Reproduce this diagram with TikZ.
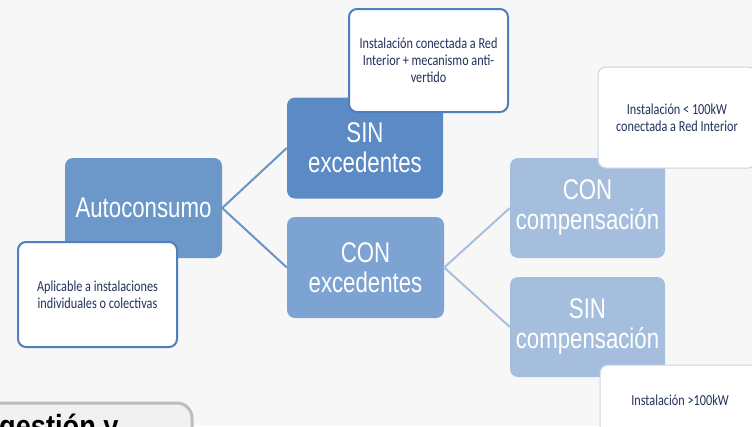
\documentclass[tikz,border=0pt]{standalone}
\usepackage{fontspec}
\setmainfont{Liberation Sans}
\newfontfamily\boxfont[FakeStretch=0.78]{Liberation Sans}
\newfontfamily\notefont[FakeStretch=0.8]{Carlito}
\newfontfamily\headfont[FakeStretch=0.85]{Liberation Sans}
\definecolor{bgc}{HTML}{F7F7F7}
\definecolor{autoc}{HTML}{6B97C9}
\definecolor{sinexc}{HTML}{5B8AC4}
\definecolor{conexc}{HTML}{7CA3D1}
\definecolor{compc}{HTML}{A5BEDD}
\definecolor{noteborder}{HTML}{4F7FBF}
\definecolor{notelight}{HTML}{C9D4E4}
\definecolor{notetext}{HTML}{22315A}
\definecolor{linkdark}{HTML}{6A93C6}
\definecolor{linklight}{HTML}{A9C0DD}
\definecolor{greybox}{HTML}{BDBDBD}
\definecolor{greyfill}{HTML}{F1F1F1}
\tikzset{
  mainbox/.style={rectangle, rounded corners=8pt, inner sep=0pt, align=center,
    text=white, font=\boxfont\fontsize{28.5}{30}\selectfont},
  notebox/.style={rectangle, rounded corners=8pt, inner sep=0pt, align=center,
    fill=white, text=notetext, font=\notefont\fontsize{15.3}{17}\selectfont},
  strongnote/.style={notebox, draw=noteborder, line width=2pt},
  softnote/.style={notebox, draw=notelight, line width=1pt},
  darklink/.style={draw=linkdark, line width=2pt},
  lightlink/.style={draw=linklight, line width=2pt}
}
\begin{document}
\begin{tikzpicture}[x=1pt, y=-1pt]
\useasboundingbox (0,0) rectangle (752,426);
\clip (0,0) rectangle (752,426);
\fill[bgc] (0,0) rectangle (752,426);

% root and its note
\node[mainbox, fill=autoc, minimum width=157pt, minimum height=100pt]
  (auto) at (143.5,208) {Autoconsumo};
\node[strongnote, minimum width=159pt, minimum height=105pt]
  (noteA) at (97.5,294.5) {Aplicable a instalaciones\\individuales o colectivas};

% first level
\node[mainbox, fill=sinexc, minimum width=156pt, minimum height=101pt]
  (sinx) at (365,148) {SIN\\excedentes};
\node[mainbox, fill=conexc, minimum width=157pt, minimum height=101pt]
  (conx) at (365.5,267.5) {CON\\excedentes};
\node[strongnote, minimum width=159pt, minimum height=103pt]
  (noteB) at (428.5,60.5) {Instalación conectada a Red\\Interior + mecanismo anti-\\vertido};

% second level
\node[mainbox, fill=compc, minimum width=155pt, minimum height=100pt]
  (conc) at (587.5,208) {CON\\compensación};
\node[mainbox, fill=compc, minimum width=155pt, minimum height=100pt]
  (sinc) at (587.5,327) {SIN\\compensación};
\node[softnote, minimum width=158pt, minimum height=101pt]
  (noteC) at (677,117.5) {Instalación < 100kW\\conectada a Red Interior};
\node[softnote, minimum width=160pt, minimum height=70pt]
  (noteD) at (680,400) {Instalación >100kW};

% connectors
\draw[darklink] (sinx.west) -- (auto.east) -- (conx.west);
\draw[lightlink] (conc.west) -- (conx.east) -- (sinc.west);

% partly visible panel at the bottom left
\draw[draw=greybox, fill=greyfill, line width=3pt, rounded corners=15pt]
  (-20,403) rectangle (192,460);
\node[anchor=base west, inner sep=0pt, font=\headfont\bfseries\fontsize{32}{36}\selectfont]
  (head) at (-1,437) {gestión y};
\end{tikzpicture}
\end{document}
